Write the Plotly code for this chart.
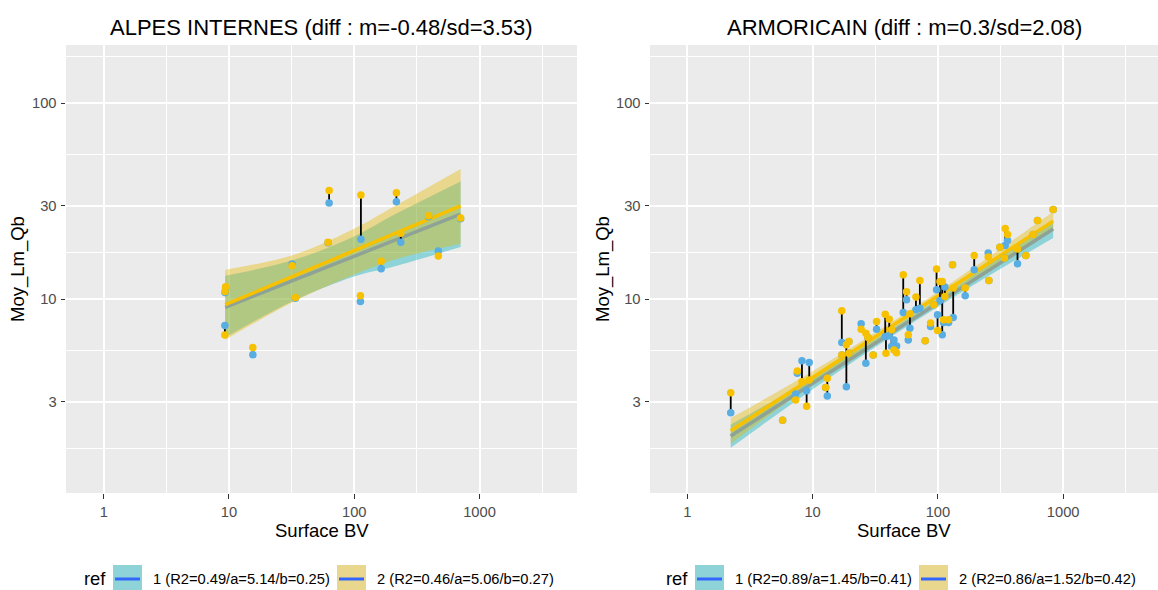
import plotly.graph_objects as go

# ---- données ----
x_ticks = [1, 10, 100, 1000]
y_ticks = [3, 10, 30, 100]

# ALPES INTERNES : surface BV, Qb modèle 1 (bleu), Qb modèle 2 (jaune)
left_area = [9.27, 9.40, 9.30, 15.5, 31.9, 33.9, 63.0, 61.8, 113, 112, 164, 217, 235, 392, 469, 706]
left_q1 = [7.34, 11.40, 10.80, 5.20, 15.1, 10.1, 30.9, 19.4, 20.2, 9.72, 14.3, 31.4, 19.5, 26.3, 17.6, 25.7]
left_q2 = [6.55, 11.56, 10.94, 5.66, 14.8, 10.2, 35.8, 19.5, 34.0, 10.4, 15.6, 34.9, 21.7, 26.6, 16.6, 25.9]

left_fit_x = [9.33, 706]
left_fit1 = [9.07, 27.15]
left_fit2 = [9.36, 29.9]
left_band_x = [9.33, 33.1, 99.6, 207.5, 706]
left_lo1 = [6.37, 9.84, 13.05, 14.68, 18.42]
left_hi1 = [13.15, 15.87, 20.88, 26.93, 39.84]
left_lo2 = [6.20, 9.73, 13.31, 15.87, 19.16]
left_hi2 = [14.12, 16.84, 22.85, 29.7, 46.2]

# ARMORICAIN
right_area = [2.22, 5.76, 7.32, 7.55, 8.22, 8.96, 9.40, 12.7, 13.1, 17.1, 17.1, 18.6, 19.5, 19.5,
              24.4, 26.6, 27.6, 30.5, 32.4, 38.0, 38.5, 40.9, 42.7, 44.6, 46.8, 52.9, 56.2, 58.0,
              59.8, 66.8, 71.8, 79.2, 87.4, 92.9, 97.6, 99.4, 103.8, 108.3, 111.0, 113.7, 121.7,
              130.9, 132.5, 165.2, 195.0, 252.1, 255.2, 312.4, 340.0, 344.5, 359.6, 432.1, 503.6,
              576.3, 624.1, 832.2]
right_q1 = [2.63, 2.41, 3.28, 4.18, 4.85, 3.41, 4.74, 3.54, 3.20, 6.00, 5.19, 3.57, 6.07, 5.29,
            7.48, 4.70, 6.39, 5.19, 7.02, 6.44, 6.44, 6.49, 5.72, 6.19, 5.77, 8.55, 9.92, 6.19,
            7.10, 8.82, 8.99, 6.12, 7.25, 9.35, 11.16, 8.31, 9.84, 6.57, 7.60, 11.52, 7.60,
            14.99, 8.06, 10.40, 14.13, 17.20, 12.46, 18.39, 16.21, 18.75, 19.89, 15.17, 16.67,
            21.35, 25.18, 28.66]
right_q2 = [3.33, 2.41, 3.05, 4.30, 3.79, 2.84, 3.86, 3.54, 3.94, 8.72, 5.19, 5.84, 6.07, 5.29,
            7.02, 6.70, 6.39, 5.19, 7.69, 8.38, 5.29, 7.90, 6.97, 5.50, 5.33, 13.32, 10.9, 6.57,
            8.41, 10.24, 12.46, 6.12, 7.54, 9.35, 14.24, 6.91, 12.31, 12.31, 7.84, 10.32, 7.84,
            14.99, 11.38, 11.38, 16.67, 16.41, 12.46, 18.39, 16.21, 22.92, 21.35, 18.03, 16.67,
            21.35, 25.18, 28.66]

right_fit_x = [2.22, 832]
right_fit1 = [2.00, 22.8]
right_fit2 = [2.13, 25.0]
right_band_x = [2.22, 8.96, 56.2, 191, 832]
right_lo1 = [1.74, 3.30, 7.22, 11.76, 20.5]
right_hi1 = [2.29, 3.80, 7.88, 13.23, 25.4]
right_lo2 = [1.83, 3.51, 7.78, 12.74, 22.4]
right_hi2 = [2.47, 4.11, 8.55, 14.44, 27.9]

titles = ["ALPES INTERNES (diff : m=-0.48/sd=3.53)", "ARMORICAIN (diff : m=0.3/sd=2.08)"]
legend_left = ["1 (R2=0.49/a=5.14/b=0.25)", "2 (R2=0.46/a=5.06/b=0.27)"]
legend_right = ["1 (R2=0.89/a=1.45/b=0.41)", "2 (R2=0.86/a=1.52/b=0.42)"]

# ---- styles ----
W, H = 1158, 590
FONT = "Liberation Sans, Arial, sans-serif"
TEAL_FILL = 'rgba(0,175,187,0.4)'
GOLD_FILL = 'rgba(231,184,0,0.4)'
TEAL_KEY = '#8DD3D8'
GOLD_KEY = '#E9D78D'
BLUE_PT = '#58ADE3'
GOLD_PT = '#F7C100'
LINE1 = '#8EA295'
SMOOTH = '#3366FF'


def px(x):
    return x / W


def py(y):
    return 1 - y / H


def add_panel(fig, xa, ya, area, q1, q2, band_x, lo1, hi1, lo2, hi2, fit_x, fit1, fit2):
    kw = dict(xaxis=xa, yaxis=ya, showlegend=False, hoverinfo='skip')
    # rubans de confiance
    fig.add_trace(go.Scatter(x=band_x, y=lo1, mode='lines', line=dict(width=0, shape='spline'), **kw))
    fig.add_trace(go.Scatter(x=band_x, y=hi1, mode='lines', fill='tonexty', fillcolor=TEAL_FILL,
                             line=dict(width=0, shape='spline'), **kw))
    fig.add_trace(go.Scatter(x=band_x, y=lo2, mode='lines', line=dict(width=0, shape='spline'), **kw))
    fig.add_trace(go.Scatter(x=band_x, y=hi2, mode='lines', fill='tonexty', fillcolor=GOLD_FILL,
                             line=dict(width=0, shape='spline'), **kw))
    # droites d'ajustement
    fig.add_trace(go.Scatter(x=fit_x, y=fit1, mode='lines', line=dict(color=LINE1, width=3.5), **kw))
    fig.add_trace(go.Scatter(x=fit_x, y=fit2, mode='lines', line=dict(color=GOLD_PT, width=3.5), **kw))
    # segments entre les deux estimations
    sx, sy = [], []
    for a, b, c in zip(area, q1, q2):
        sx += [a, a, None]
        sy += [b, c, None]
    fig.add_trace(go.Scatter(x=sx, y=sy, mode='lines', line=dict(color='black', width=1.8), **kw))
    fig.add_trace(go.Scatter(x=area, y=q1, mode='markers', marker=dict(color=BLUE_PT, size=7.5), **kw))
    fig.add_trace(go.Scatter(x=area, y=q2, mode='markers', marker=dict(color=GOLD_PT, size=7.5), **kw))


fig = go.Figure()
add_panel(fig, 'x', 'y', left_area, left_q1, left_q2, left_band_x, left_lo1, left_hi1,
          left_lo2, left_hi2, left_fit_x, left_fit1, left_fit2)
add_panel(fig, 'x2', 'y2', right_area, right_q1, right_q2, right_band_x, right_lo1, right_hi1,
          right_lo2, right_hi2, right_fit_x, right_fit1, right_fit2)

axis_common = dict(
    type='log', showgrid=True, gridcolor='white', gridwidth=1.8, zeroline=False, showline=False,
    ticks='outside', ticklen=4.5, tickwidth=1.1, tickcolor='#333333', ticklabelstandoff=1,
    tickfont=dict(family=FONT, size=14.7, color='#4D4D4D'), fixedrange=True,
)
x_minor = [10 ** (k + 0.5) for k in range(0, 4)]
y_minor = [(a * b) ** 0.5 for a, b in zip([1] + y_ticks, y_ticks + [300])]

xa = dict(axis_common, tickvals=x_ticks, ticktext=[str(v) for v in x_ticks],
          minor=dict(tickvals=x_minor, showgrid=True, gridcolor='white', gridwidth=0.9, ticks=''))
ya = dict(axis_common, tickvals=y_ticks, ticktext=[str(v) for v in y_ticks],
          minor=dict(tickvals=y_minor, showgrid=True, gridcolor='white', gridwidth=0.9, ticks=''),
          range=[0.0102, 2.297])

fig.update_layout(
    width=W, height=H, margin=dict(l=0, r=0, t=0, b=0),
    paper_bgcolor='white', plot_bgcolor='#EBEBEB', showlegend=False,
    xaxis=dict(xa, domain=[px(66), px(577)], range=[-0.301, 3.778], anchor='y'),
    yaxis=dict(ya, domain=[py(493), py(45)], anchor='x'),
    xaxis2=dict(xa, domain=[px(650), 1.0], range=[-0.298, 3.757], anchor='y2'),
    yaxis2=dict(ya, domain=[py(493), py(45)], anchor='x2'),
)

ann = []
shapes = []
for cx, ytx, title in [(321.5, 18, titles[0]), (904, 603, titles[1])]:
    ann.append(dict(x=px(cx), y=py(27), text=title, font=dict(family=FONT, size=22, color='black')))
    ann.append(dict(x=px(cx), y=py(530), text="Surface BV", font=dict(family=FONT, size=18.5, color='black')))
    ann.append(dict(x=px(ytx), y=py(269), text="Moy_Lm_Qb", textangle=-90,
                    font=dict(family=FONT, size=18.5, color='black')))

# légendes dessinées à la main
for x0, labels in [(82, legend_left), (664, legend_right)]:
    ann.append(dict(x=px(x0), y=py(578), text="ref", xanchor='left',
                    font=dict(family=FONT, size=18.4, color='black')))
    for k, (lab, key) in enumerate(zip(labels, [TEAL_KEY, GOLD_KEY])):
        kx = x0 + 31 + k * 224
        shapes.append(dict(type='rect', xref='paper', yref='paper', x0=px(kx), x1=px(kx + 29),
                           y0=py(594), y1=py(565), fillcolor=key, line=dict(width=0), layer='above'))
        shapes.append(dict(type='line', xref='paper', yref='paper', x0=px(kx + 2), x1=px(kx + 27),
                           y0=py(579), y1=py(579), line=dict(color=SMOOTH, width=3)))
        ann.append(dict(x=px(kx + 38), y=py(579), text=lab, xanchor='left',
                        font=dict(family=FONT, size=14.7, color='black')))

for a in ann:
    a.update(xref='paper', yref='paper', showarrow=False, yanchor='middle', xanchor=a.get('xanchor', 'center'))
fig.update_layout(annotations=ann, shapes=shapes)

fig.write_html("out.html", config={'displayModeBar': False},
               post_script="document.body.style.margin = '0';")
